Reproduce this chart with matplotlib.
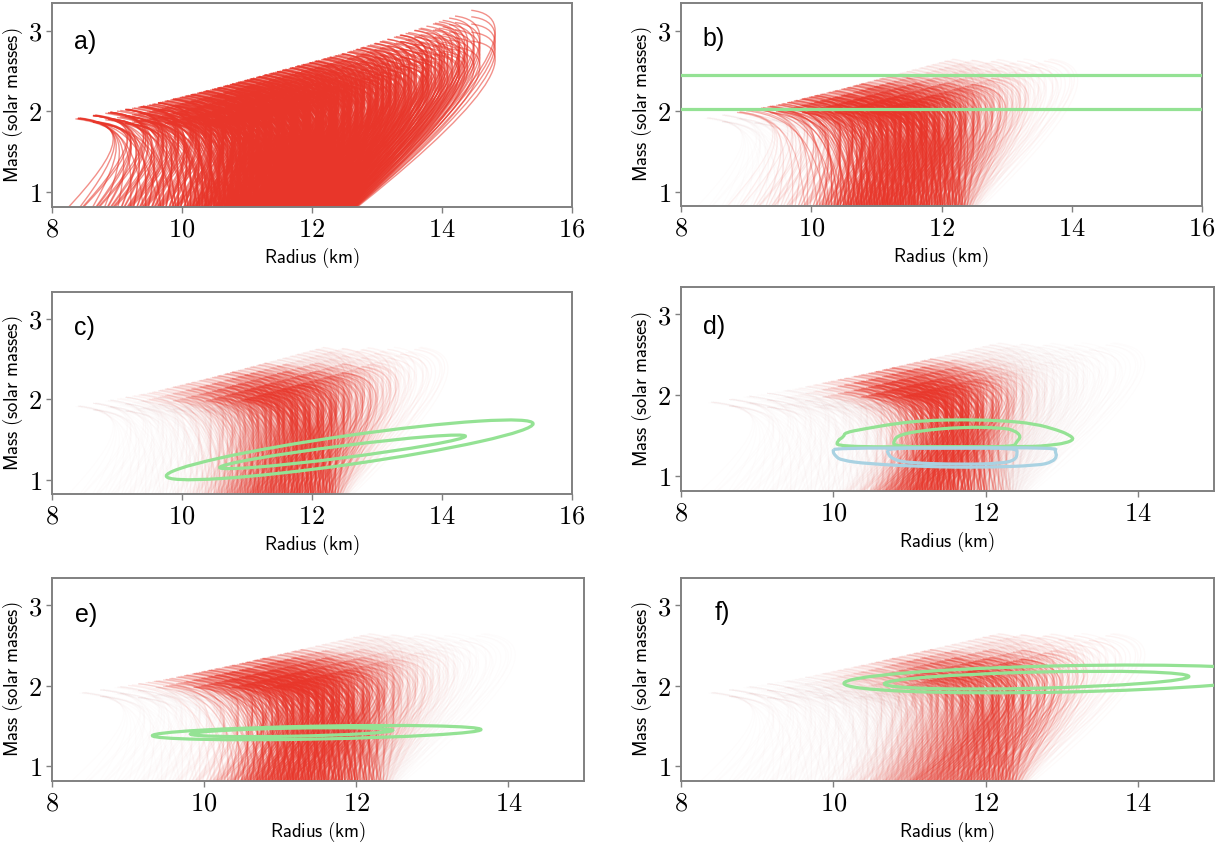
import numpy as np
import matplotlib
matplotlib.use("Agg")
import matplotlib.pyplot as plt
from matplotlib.path import Path
from matplotlib.collections import PathCollection
from matplotlib.patches import Ellipse, PathPatch
from matplotlib.ticker import FuncFormatter
from matplotlib.colors import to_rgba

plt.rcParams["mathtext.fontset"] = "cm"

# ---------------------------------------------------------------
# Prior family of mass-radius curves
# ---------------------------------------------------------------
R_BOTTOM = [8.0, 8.22, 8.47, 8.7, 8.96, 9.2, 9.43, 9.7, 9.93, 10.12, 10.3,
            10.44, 10.56, 10.64, 10.76, 10.84, 10.96, 11.04, 11.16, 11.23,
            11.36, 11.44, 11.57, 11.63, 11.76, 11.84, 11.97, 12.04, 12.16,
            12.26, 12.35]
TIP_SHIFT = [-1.3, -1.07, -0.8, -0.57, -0.3, -0.07, 0.2, 0.43, 0.7, 1.0,
             1.32, 1.6, 1.85, 2.1]
M_DROP = [0.0, 0.08, 0.17, 0.27, 0.38]
# upper envelope of the curve tips (maximum mass vs radius)
TIP_ENV_R = [8.3, 9.5, 10.5, 11.5, 12.5, 13.5, 14.45]
TIP_ENV_M = [1.9, 2.08, 2.28, 2.5, 2.72, 2.98, 3.25]
# largest rightward lean seen for a given starting radius
SHIFT_LIMIT_R = [8.0, 9.5, 10.5, 11.5, 12.35]
SHIFT_LIMIT = [0.5, 0.6, 0.9, 1.4, 2.15]
M_MIN_TIP = 1.85
M_START = 0.6
HOOK = 0.85
HOOK_DIP = 0.08
# relative prior density of curves by starting radius (seen in panels b-f)
PRIOR_R = [8.0, 9.5, 10.3, 12.2, 12.4]
PRIOR_W = [0.15, 0.4, 1.0, 1.0, 0.6]

# ---------------------------------------------------------------
# Constraints
# ---------------------------------------------------------------
# panel b: maximum-mass bounds
B_LINES = [2.02, 2.45]
MMAX_BINS = [0.0, 1.98, 2.2, 2.35, 2.45, 2.65, 9.9]
MMAX_WEIGHT = [0.03, 1.0, 0.65, 0.35, 0.12, 0.0]

# ellipse contours: centre R, centre M, half length (km), half width (Msun), tilt (deg)
C_INNER = (12.47, 1.345, 1.9, 0.075, 5.9)
C_OUTER = (12.58, 1.37, 2.84, 0.18, 6.6)
E_INNER = (11.15, 1.425, 1.33, 0.05, 1.0)
E_OUTER = (11.48, 1.42, 2.16, 0.08, 1.0)
F_INNER = (12.67, 2.07, 2.0, 0.1, 1.3)
F_OUTER = (13.0, 2.085, 2.86, 0.163, 1.1)

# panel d: two separate mass-radius regions
D_GREEN_OUT_R = [10.05, 10.05, 10.14, 10.15, 10.4, 10.8, 11.2, 11.7, 12.2, 12.65,
                 12.95, 13.08, 13.17, 13.05, 12.85, 12.6, 11.3]
D_GREEN_OUT_M = [1.365, 1.44, 1.49, 1.54, 1.585, 1.65, 1.69, 1.70, 1.69, 1.65,
                 1.57, 1.52, 1.46, 1.41, 1.385, 1.365, 1.365]
D_GREEN_IN_R = [10.8, 10.79, 10.86, 11.15, 11.7, 12.2, 12.38, 12.47, 12.40, 12.38, 11.6]
D_GREEN_IN_M = [1.365, 1.44, 1.51, 1.565, 1.61, 1.60, 1.57, 1.49, 1.42, 1.365, 1.365]
D_BLUE_OUT_R = [10.02, 11.5, 12.93, 12.91, 12.94, 12.88, 12.7, 11.95, 11.2, 10.45,
                10.1, 10.03, 9.99]
D_BLUE_OUT_M = [1.35, 1.35, 1.355, 1.31, 1.25, 1.18, 1.135, 1.11, 1.12, 1.155,
                1.2, 1.25, 1.31]
D_BLUE_IN_R = [10.71, 11.6, 12.4, 12.42, 12.39, 12.2, 11.7, 11.0, 10.78, 10.71]
D_BLUE_IN_M = [1.35, 1.35, 1.35, 1.29, 1.2, 1.16, 1.148, 1.165, 1.21, 1.29]

RED = "#e8362a"
GREEN = "#94e294"
BLUE = "#a9d2e2"
SPINE = "#808080"


def build_curves():
    rows = []
    for rb in R_BOTTOM:
        lim = np.interp(rb, SHIFT_LIMIT_R, SHIFT_LIMIT)
        for s in TIP_SHIFT:
            rt = rb + s
            if s > lim or rt < TIP_ENV_R[0] or rt > TIP_ENV_R[-1]:
                continue
            for drop in M_DROP:
                mmax = np.interp(rt, TIP_ENV_R, TIP_ENV_M) - drop
                if mmax < M_MIN_TIP:
                    continue
                knee = rt + HOOK
                k = 0.8 if knee > rb else 0.45
                rows.append([[rb, M_START],
                             [rb + k * (knee - rb), M_START + 0.65 * (mmax - M_START)],
                             [knee, mmax - HOOK_DIP],
                             [rt, mmax]])
    return np.array(rows)


CTRL = build_curves()
MMAX = CTRL[:, 3, 1]
PRIOR = np.interp(CTRL[:, 0, 0], PRIOR_R, PRIOR_W)
PATHS = [Path(c, [Path.MOVETO, Path.CURVE4, Path.CURVE4, Path.CURVE4]) for c in CTRL]

# points along each curve, only used to weigh curves against the constraints
_t = np.linspace(0, 1, 240)[:, None]
_bern = np.hstack([(1 - _t) ** 3, 3 * (1 - _t) ** 2 * _t, 3 * (1 - _t) * _t ** 2, _t ** 3])
CURVE_PTS = np.einsum("tk,nkd->ntd", _bern, CTRL)


def mmax_weight():
    idx = np.searchsorted(MMAX_BINS, MMAX, side="right") - 1
    return np.array(MMAX_WEIGHT)[idx] * PRIOR


def gauss_like(cr, cm, hr, hm, tilt):
    th = np.radians(tilt)
    dr = CURVE_PTS[:, :, 0] - cr
    dm = CURVE_PTS[:, :, 1] - cm
    u = dr * np.cos(th) + dm * np.sin(th)
    v = -dr * np.sin(th) + dm * np.cos(th)
    d2 = (u / (hr / 2.45)) ** 2 + (v / (hm / 2.45)) ** 2
    return np.exp(-0.5 * d2.min(axis=1))


def box_like(rs, ms):
    return gauss_like((min(rs) + max(rs)) / 2, (min(ms) + max(ms)) / 2,
                      (max(rs) - min(rs)) / 2, (max(ms) - min(ms)) / 2, 0.0)


def smooth_loop(rs, ms):
    pts = np.column_stack([rs, ms])
    mids = (pts + np.roll(pts, -1, axis=0)) / 2
    verts = [mids[-1]]
    codes = [Path.MOVETO]
    for i in range(len(pts)):
        verts += [pts[i], mids[i]]
        codes += [Path.CURVE3, Path.CURVE3]
    return Path(verts, codes)


def draw_curves(ax, weights=None, a_max=0.4, gamma=1.3, floor=0.01):
    if weights is None:
        order = np.arange(len(PATHS))
        alphas = np.full(len(PATHS), 0.55)
        lw = 1.0
    else:
        w = weights / weights.max()
        order = np.argsort(w)
        alphas = np.where(w > 0, floor + a_max * w ** gamma, 0.0)
        lw = 0.9
    base = np.array(to_rgba(RED))
    cols = np.tile(base, (len(order), 1))
    cols[:, 3] = np.clip(alphas[order], 0, 1)
    coll = PathCollection([PATHS[i] for i in order], facecolors="none",
                          edgecolors=cols, linewidths=lw)
    ax.add_collection(coll)


def add_ellipse(ax, spec, color=GREEN):
    cr, cm, hr, hm, tilt = spec
    ax.add_patch(Ellipse((cr, cm), 2 * hr, 2 * hm, angle=tilt, fill=False,
                         edgecolor=color, linewidth=2.3, zorder=5))


def style_axes(ax, letter, lx, ly, xmax):
    ax.set_xlim(8, xmax)
    ax.set_ylim(0.82, 3.34)
    ax.set_xticks(list(range(8, xmax + 1, 2)))
    ax.set_yticks([1, 2, 3])
    fmt = FuncFormatter(lambda v, p: f"${v:g}$")
    ax.xaxis.set_major_formatter(fmt)
    ax.yaxis.set_major_formatter(fmt)
    ax.tick_params(direction="out", length=4, width=1.0, color=SPINE,
                   labelsize=19, pad=3)
    for sp in ax.spines.values():
        sp.set_color(SPINE)
        sp.set_linewidth(1.4)
    ax.set_xlabel(r"$\mathsf{Radius\ (km)}$", fontsize=13.5, labelpad=2)
    ax.set_ylabel(r"$\mathsf{Mass\ (solar\ masses)}$", fontsize=13.5, labelpad=2)
    ax.text(lx, ly, letter, transform=ax.transAxes, fontsize=18,
            family="Liberation Sans", va="center", ha="left", zorder=10)


fig = plt.figure(figsize=(12.25, 8.43), dpi=100)
W, H = 1225.0, 843.0


def axes_px(left, top, right, bottom):
    return fig.add_axes([left / W, 1 - bottom / H, (right - left) / W, (bottom - top) / H])


ax_a = axes_px(52, 3, 572, 207)
ax_b = axes_px(681, 3.3, 1202, 206)
ax_c = axes_px(52, 291.7, 572, 494)
ax_d = axes_px(681, 286.7, 1214, 491)
ax_e = axes_px(52, 577.7, 584.4, 781)
ax_f = axes_px(681, 577.7, 1214, 781)

w_b = mmax_weight()

# a) prior
draw_curves(ax_a)
style_axes(ax_a, "a)", 0.043, 0.81, 16)

# b) maximum mass
draw_curves(ax_b, w_b)
for y in B_LINES:
    ax_b.axhline(y, color=GREEN, linewidth=2.3, zorder=5)
style_axes(ax_b, "b)", 0.042, 0.824, 16)

# c) tilted mass-radius ellipse
draw_curves(ax_c, w_b * gauss_like(*C_OUTER))
add_ellipse(ax_c, C_INNER)
add_ellipse(ax_c, C_OUTER)
style_axes(ax_c, "c)", 0.043, 0.82, 16)

# d) two regions
w_d = w_b * box_like(D_GREEN_OUT_R, D_GREEN_OUT_M) * box_like(D_BLUE_OUT_R, D_BLUE_OUT_M)
draw_curves(ax_d, w_d)
for rs, ms, col in [(D_GREEN_OUT_R, D_GREEN_OUT_M, GREEN), (D_GREEN_IN_R, D_GREEN_IN_M, GREEN),
                    (D_BLUE_OUT_R, D_BLUE_OUT_M, BLUE), (D_BLUE_IN_R, D_BLUE_IN_M, BLUE)]:
    ax_d.add_patch(PathPatch(smooth_loop(rs, ms), fill=False, edgecolor=col,
                             linewidth=2.3, zorder=5))
style_axes(ax_d, "d)", 0.041, 0.804, 15)

# e) narrow mass ellipse
draw_curves(ax_e, w_b * gauss_like(*E_OUTER))
add_ellipse(ax_e, E_INNER)
add_ellipse(ax_e, E_OUTER)
style_axes(ax_e, "e)", 0.0425, 0.817, 15)

# f) high-mass ellipse
draw_curves(ax_f, w_b * gauss_like(*F_OUTER))
add_ellipse(ax_f, F_INNER)
add_ellipse(ax_f, F_OUTER)
style_axes(ax_f, "f)", 0.063, 0.826, 15)

fig.savefig("out.png", dpi=100)
